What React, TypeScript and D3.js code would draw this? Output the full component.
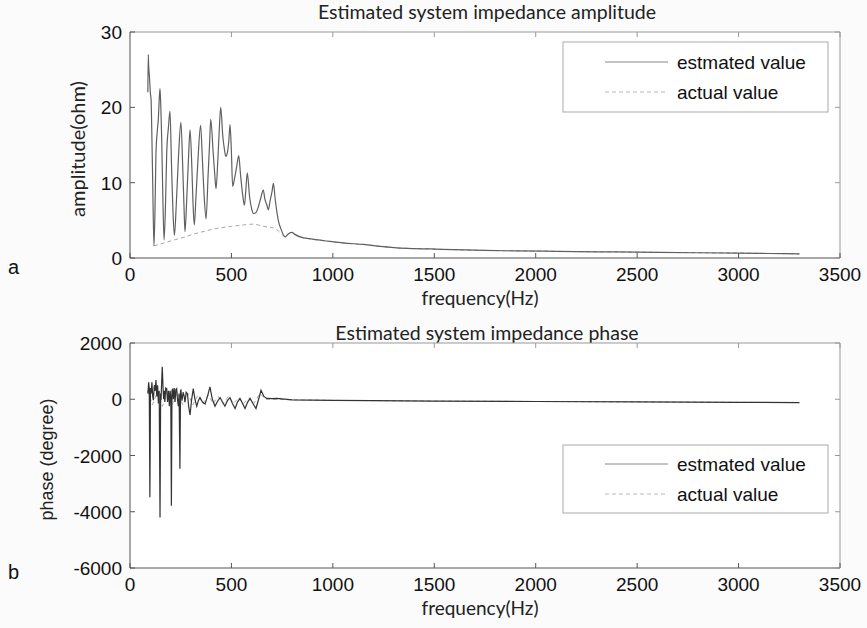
import React from "react";
import * as d3 from "d3";

// ---- data ----
const ampEstFreq = [88, 90, 92, 96, 100, 104, 107, 112, 118, 123, 128, 135, 140, 144, 148, 152, 156, 162, 168, 175, 181, 190, 197, 205, 212, 219, 228, 240, 251, 260, 266, 271, 280, 288, 296, 305, 311, 317, 325, 335, 348, 357, 365, 375, 385, 392, 398, 410, 418, 424, 433, 440, 447, 458, 465, 472, 480, 487, 493, 500, 506, 515, 525, 536, 545, 555, 564, 571, 578, 590, 600, 608, 620, 635, 645, 657, 665, 675, 682, 690, 700, 707, 715, 722, 731, 745, 764, 780, 797, 815, 838, 900, 986, 1050, 1150, 1250, 1315, 1400, 1479, 1600, 1750, 1900, 2050, 2200, 2400, 2600, 2800, 3000, 3150, 3300];
const ampEstVal = [22, 27, 25.5, 24, 22, 21, 17.4, 10, 1.6, 6, 13.9, 17, 18.6, 21, 22.5, 20, 16.1, 8, 2.4, 7, 13.9, 17.5, 19.5, 12, 6, 3.0, 7, 14, 18, 12, 7, 3.5, 8, 13, 17, 12, 7, 4.4, 8, 13, 17.6, 13, 8.5, 5.2, 11, 15, 18.4, 14, 11, 9.2, 13, 17, 20, 16, 14.5, 13.5, 14, 15.5, 17.7, 14, 9.5, 10.5, 12, 13.6, 11, 8.5, 7, 9, 11.3, 8, 6.5, 5.9, 6, 7, 8, 9, 7.8, 7, 6.4, 7.5, 8.8, 9.9, 8, 6.5, 5, 3.8, 2.8, 3.2, 3.4, 3.1, 2.8, 2.5, 2.2, 2.0, 1.8, 1.5, 1.35, 1.25, 1.2, 1.1, 1.0, 0.95, 0.9, 0.85, 0.8, 0.75, 0.7, 0.65, 0.6, 0.55];

const ampActFreq = [118, 168, 219, 271, 317, 375, 424, 500, 564, 608, 657, 707, 731, 764, 780, 797, 815, 838, 900, 986, 1050, 1150, 1250, 1315, 1400, 1479, 1600, 1750, 1900, 2050, 2200, 2400, 2600, 2800, 3000, 3150, 3300];
const ampActVal = [1.6, 2.0, 2.4, 2.8, 3.2, 3.6, 3.9, 4.2, 4.4, 4.5, 4.2, 4.0, 3.6, 2.9, 3.2, 3.4, 3.1, 2.8, 2.5, 2.2, 2.0, 1.8, 1.5, 1.35, 1.25, 1.2, 1.1, 1.0, 0.95, 0.9, 0.85, 0.8, 0.75, 0.7, 0.65, 0.6, 0.55];

const phEstFreq = [88, 92, 95, 98, 101, 104, 108, 112, 115, 120, 124, 128, 132, 136, 140, 144, 148, 151, 153, 156, 159, 163, 166, 169, 172, 176, 181, 185, 190, 194, 198, 201, 204, 207, 210, 214, 218, 222, 226, 230, 234, 238, 242, 246, 249, 251, 256, 262, 267, 271, 277, 283, 290, 296, 304, 312, 320, 329, 337, 345, 357, 370, 382, 394, 406, 419, 431, 444, 456, 468, 480, 493, 505, 518, 530, 542, 555, 567, 580, 592, 606, 621, 634, 646, 660, 674, 700, 723, 800, 1000, 1200, 1500, 2000, 2500, 3000, 3300];
const phEstVal = [200, 600, 381, -3488, 400, 200, 600, 100, -36, 500, 300, 680, 100, 500, -150, 300, -4200, 200, -36, 600, 1153, 400, 0, 300, -100, 400, 380, -100, 300, -250, 300, 100, -3784, 300, 380, 0, 400, -100, 350, 380, 0, -250, 200, -2475, 300, 320, -50, 250, 100, -100, 250, 200, -300, -560, 0, 380, 0, -250, -50, 60, -100, -170, 100, 440, 0, -250, -80, 60, -100, -250, -50, 60, -150, -330, -100, 30, -150, -330, -100, 30, -150, -330, 0, 320, 100, 30, 20, 30, -20, -40, -50, -65, -80, -95, -110, -120];

const phActFreq = [88, 110, 135, 160, 185, 210, 235, 260, 285, 310, 335, 360, 385, 410, 435, 460, 485, 510, 535, 560, 585, 610, 640, 670, 720, 800, 1000, 1200, 1500, 2000, 2500, 3000, 3300];
const phActVal = [300, -200, 250, -250, 300, -200, 250, -200, 200, -200, 150, -150, 150, -150, 100, -150, 100, -150, 50, -150, 50, -150, 200, 0, 0, -20, -40, -50, -65, -80, -95, -110, -120];

const xTicks = [0, 500, 1000, 1500, 2000, 2500, 3000, 3500];
const ampTicks = [0, 10, 20, 30];
const phTicks = [-6000, -4000, -2000, 0, 2000];
const legendLabels = ["estmated value", "actual value"];

const tickFont = "'Liberation Sans', Arial, sans-serif";
const titleFont = "Lato, 'Open Sans', sans-serif";

type PanelProps = {
  top: number; bottom: number; yDomain: [number, number]; yTicks: number[];
  est: [number[], number[]]; act: [number[], number[]]; smooth: boolean; estColor: string;
  title: string; yLabel: string; yLabelX: number; yLabelFont: string; yLabelSize: number;
  tag: string; tagY: number; legendTop: number; legendBottom: number;
  xLabelY: number; titleY: number;
};

const L = 130, R = 840;

function Panel(p: PanelProps) {
  const x = d3.scaleLinear().domain([0, 3500]).range([L, R]);
  const y = d3.scaleLinear().domain(p.yDomain).range([p.bottom, p.top]);
  const line = d3.line<[number, number]>().x(d => x(d[0])).y(d => y(d[1]))
    .curve(p.smooth ? d3.curveMonotoneX : d3.curveLinear);
  const estPts = p.est[0].map((f, i) => [f, p.est[1][i]] as [number, number]);
  const actPts = p.act[0].map((f, i) => [f, p.act[1][i]] as [number, number]);
  const lgMid = (p.legendTop + p.legendBottom) / 2;
  const lgRows = [lgMid - 15, lgMid + 15];
  return (
    <g>
      <rect x={L} y={p.top} width={R - L} height={p.bottom - p.top} fill="#ffffff" />
      <text x={(L + R) / 2 + 2} y={p.titleY} textAnchor="middle" fontFamily={titleFont} fontSize={19.5} fill="#222">{p.title}</text>
      <path d={line(actPts) || ""} fill="none" stroke="#a8a8a8" strokeWidth={1} strokeDasharray="4,3" />
      <path d={line(estPts) || ""} fill="none" stroke={p.estColor} strokeWidth={1.2} />
      {/* box */}
      <line x1={L} x2={R} y1={p.top} y2={p.top} stroke="#999" strokeWidth={1} />
      <line x1={R} x2={R} y1={p.top} y2={p.bottom} stroke="#999" strokeWidth={1} />
      <line x1={L} x2={R} y1={p.bottom} y2={p.bottom} stroke="#555" strokeWidth={1} />
      <line x1={L} x2={L} y1={p.top} y2={p.bottom} stroke="#555" strokeWidth={1} />
      {xTicks.map(t => (
        <g key={"x" + t}>
          <line x1={x(t)} x2={x(t)} y1={p.bottom} y2={p.bottom - 5} stroke="#555" />
          <line x1={x(t)} x2={x(t)} y1={p.top} y2={p.top + 5} stroke="#999" />
          <text x={x(t)} y={p.bottom + 23} textAnchor="middle" fontFamily={tickFont} fontSize={19} fill="#111">{t}</text>
        </g>
      ))}
      {p.yTicks.map(t => (
        <g key={"y" + t}>
          <line x1={L} x2={L + 5} y1={y(t)} y2={y(t)} stroke="#555" />
          <line x1={R} x2={R - 5} y1={y(t)} y2={y(t)} stroke="#999" />
          <text x={L - 8} y={y(t) + 7} textAnchor="end" fontFamily={tickFont} fontSize={19} fill="#111">{t}</text>
        </g>
      ))}
      <text x={(L + R) / 2 - 5} y={p.xLabelY} textAnchor="middle" fontFamily={titleFont} fontSize={19} fill="#222">frequency(Hz)</text>
      <text transform={`translate(${p.yLabelX},${(p.top + p.bottom) / 2 + 4}) rotate(-90)`} textAnchor="middle" fontFamily={p.yLabelFont} fontSize={p.yLabelSize} fill="#222">{p.yLabel}</text>
      <text x={8} y={p.tagY} fontFamily={tickFont} fontSize={20} fill="#111">{p.tag}</text>
      {/* legend */}
      <rect x={563} y={p.legendTop} width={265} height={p.legendBottom - p.legendTop} fill="#fff" stroke="#aaa" strokeWidth={1} />
      <line x1={605} x2={668} y1={lgRows[0]} y2={lgRows[0]} stroke="#888" strokeWidth={1} />
      <line x1={605} x2={668} y1={lgRows[1]} y2={lgRows[1]} stroke="#b8b8b8" strokeWidth={1} strokeDasharray="4,3" />
      {legendLabels.map((s, i) => (
        <text key={s} x={677} y={lgRows[i] + 7} fontFamily={tickFont} fontSize={19} fill="#111">{s}</text>
      ))}
    </g>
  );
}

export default function App() {
  return (
    <svg width={867} height={628} style={{ position: "fixed", left: 0, top: 0, background: "#fbfbfb" }}>
      <rect width={867} height={628} fill="#fbfbfb" />
      <Panel top={32} bottom={258} yDomain={[0, 30]} yTicks={ampTicks} smooth={true} estColor="#606060"
        est={[ampEstFreq, ampEstVal]} act={[ampActFreq, ampActVal]}
        title="Estimated system impedance amplitude" yLabel="amplitude(ohm)" yLabelX={85} yLabelFont={titleFont} yLabelSize={20}
        tag="a" tagY={274} legendTop={42} legendBottom={112} xLabelY={305} titleY={19} />
      <Panel top={343} bottom={568} yDomain={[-6000, 2000]} yTicks={phTicks} smooth={false} estColor="#333"
        est={[phEstFreq, phEstVal]} act={[phActFreq, phActVal]}
        title="Estimated system impedance phase" yLabel="phase (degree)" yLabelX={53} yLabelFont={tickFont} yLabelSize={18}
        tag="b" tagY={579} legendTop={445} legendBottom={513} xLabelY={615} titleY={340} />
    </svg>
  );
}
